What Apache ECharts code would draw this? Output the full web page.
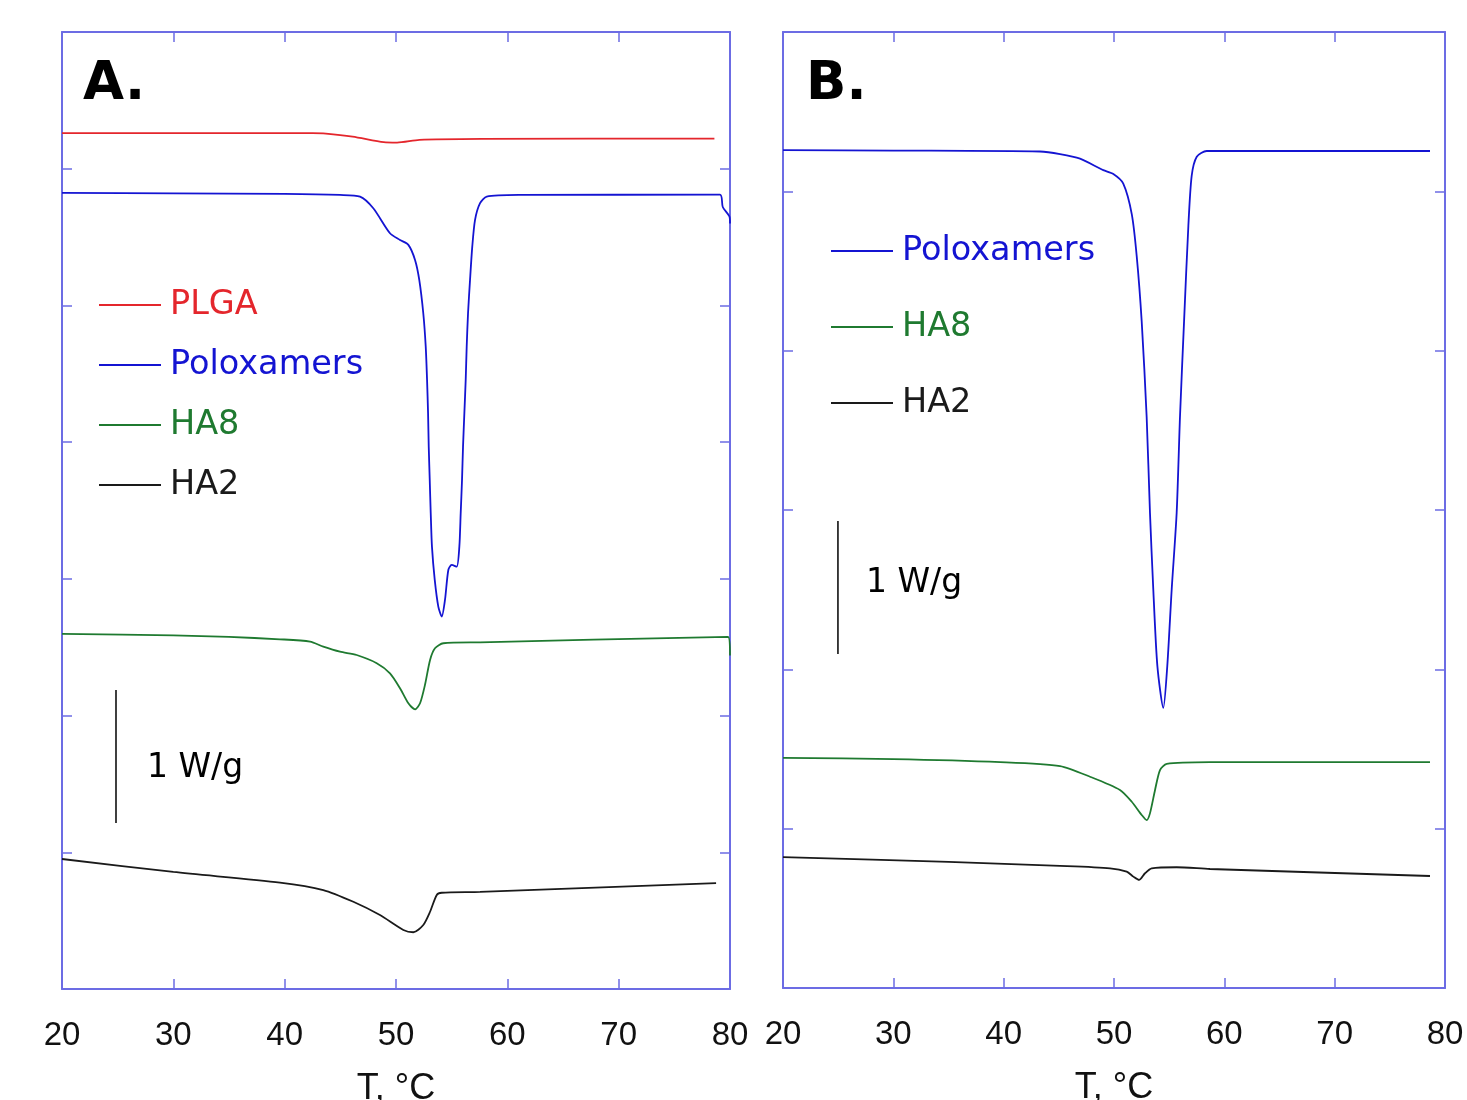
<!DOCTYPE html>
<html>
<head>
<meta charset="utf-8">
<script src="https://cdn.jsdelivr.net/npm/echarts@6/dist/echarts.min.js"></script>
<style>
  html, body { margin: 0; padding: 0; background: #fff; }
  #dsc-chart { width: 1467px; height: 1100px; }
</style>
</head>
<body>
<div id="dsc-chart"></div>
<script>
// x ticks (°C)
var tempTicks = [20, 30, 40, 50, 60, 70, 80];

// panel A curves, [T (°C), heat flow (axis units, offset)]
var plgaA = [[20, 6.26], [30, 6.26], [40, 6.26], [42.5, 6.26], [43.7, 6.257], [46.1, 6.235], [48.9, 6.194],
    [50.1, 6.191], [52.1, 6.211], [57.7, 6.218], [78.6, 6.22]];
var poloxA = [[20, 5.823], [30, 5.82], [40, 5.816], [44.97, 5.808], [46.77, 5.796], [47.96, 5.711], [49.46, 5.528],
    [50.36, 5.479], [51.11, 5.443], [51.71, 5.333], [52.09, 5.187], [52.45, 4.943], [52.67, 4.699], [52.79, 4.455],
    [52.88, 4.211], [52.94, 3.967], [53.03, 3.723], [53.12, 3.479], [53.23, 3.236], [53.48, 2.992], [53.8, 2.797],
    [54.11, 2.724], [54.4, 2.846], [54.7, 3.065], [55.0, 3.102], [55.45, 3.089], [55.69, 3.236], [55.81, 3.479],
    [55.93, 3.723], [56.02, 3.967], [56.14, 4.211], [56.26, 4.455], [56.35, 4.699], [56.47, 4.943], [56.65, 5.187],
    [56.85, 5.43], [57.1, 5.626], [57.55, 5.748], [58.15, 5.796], [61.14, 5.808], [79.1, 5.81], [79.35, 5.72],
    [79.95, 5.65], [80, 5.6]];
var ha8A = [[20, 2.597], [30, 2.586], [35, 2.575], [39.58, 2.558], [42.28, 2.541], [43.47, 2.504], [44.97, 2.467],
    [46.47, 2.443], [48.27, 2.383], [49.46, 2.309], [50.36, 2.2], [51.11, 2.09], [51.71, 2.046], [52.16, 2.09],
    [52.61, 2.227], [53.06, 2.407], [53.5, 2.492], [54.25, 2.529], [57.55, 2.536], [79.82, 2.575], [80, 2.44]];
var ha2A = [[20, 0.951], [30, 0.856], [39.58, 0.778], [43.47, 0.724], [46.17, 0.638], [48.56, 0.541], [50.66, 0.432],
    [51.56, 0.415], [52.45, 0.468], [53.06, 0.565], [53.66, 0.688], [54.11, 0.704], [57.55, 0.71], [78.75, 0.775]];

// panel B curves
var poloxB = [[20, 5.259], [30, 5.256], [43.29, 5.25], [45.11, 5.234], [46.92, 5.205], [49.03, 5.133], [49.94, 5.109],
    [50.84, 5.049], [51.61, 4.857], [52.06, 4.592], [52.51, 4.184], [52.96, 3.584], [53.26, 2.983], [53.56, 2.503],
    [53.93, 2.022], [54.47, 1.758], [54.83, 2.022], [55.23, 2.503], [55.68, 2.983], [55.98, 3.584], [56.35, 4.184],
    [56.74, 4.784], [57.04, 5.097], [57.5, 5.217], [58.4, 5.253], [61.42, 5.253], [78.64, 5.253]];
var ha8B = [[20, 1.444], [30, 1.437], [39.7, 1.418], [45.11, 1.393], [47.83, 1.326], [50.54, 1.243], [51.61, 1.169],
    [52.51, 1.086], [52.96, 1.054], [53.26, 1.096], [53.72, 1.243], [54.17, 1.368], [54.78, 1.406], [58.7, 1.417],
    [78.64, 1.418]];
var ha2B = [[20, 0.822], [35, 0.791], [45.11, 0.766], [49.64, 0.751], [51.15, 0.73], [51.75, 0.699], [52.27, 0.678],
    [52.81, 0.72], [53.42, 0.751], [55.68, 0.758], [58.7, 0.747], [78.64, 0.703]];

// 1 W/g scale bars
var barA = [[24.85, 2.187], [24.85, 1.214]];
var barB = [[24.98, 2.931], [24.98, 2.096]];

var RED = '#e4262c', BLUE = '#1414d2', GREEN = '#1f7a30', BLACK = '#1a1a1a';
var AXIS = '#6c6ce4';

function xAx(grid, pos) {
    var bottom = pos === 'bottom';
    return {
        type: 'value', gridIndex: grid, position: pos, min: 20, max: 80, interval: 10,
        axisLine: { show: true, onZero: false, lineStyle: { color: AXIS, width: 2 } },
        axisTick: { show: true, inside: true, length: 10, lineStyle: { color: AXIS, width: 1.5 } },
        axisLabel: { show: bottom, margin: 30, color: '#111', fontSize: 33, fontFamily: 'Liberation Sans',
            formatter: function (v) { return tempTicks.indexOf(v) >= 0 ? String(v) : ''; } },
        splitLine: { show: false },
        name: bottom ? 'T, °C' : '', nameLocation: 'middle', nameGap: 82,
        nameTextStyle: { color: '#111', fontSize: 36, fontFamily: 'Liberation Sans' }
    };
}
function yAx(grid, pos, max) {
    return {
        type: 'value', gridIndex: grid, position: pos, min: 0, max: max, interval: 1,
        axisLine: { show: true, onZero: false, lineStyle: { color: AXIS, width: 2 } },
        axisTick: { show: true, inside: true, length: 10, lineStyle: { color: AXIS, width: 1.5 } },
        axisLabel: { show: false },
        splitLine: { show: false }
    };
}
function curve(name, data, color, xi, yi) {
    return {
        name: name, type: 'line', data: data, xAxisIndex: xi, yAxisIndex: yi,
        showSymbol: false, symbol: 'none', smooth: 0.25, silent: true,
        lineStyle: { color: color, width: 1.8 }, itemStyle: { color: color }
    };
}

var chart = echarts.init(document.getElementById('dsc-chart'));
var option = {
    backgroundColor: '#fff',
    animation: false,
    grid: [
        { left: 62, top: 32, width: 668, height: 957, containLabel: false, outerBoundsMode: 'none' },
        { left: 783, top: 32, width: 662, height: 956, containLabel: false, outerBoundsMode: 'none' }
    ],
    xAxis: [xAx(0, 'bottom'), xAx(0, 'top'), xAx(1, 'bottom'), xAx(1, 'top')],
    yAxis: [yAx(0, 'left', 7), yAx(0, 'right', 7), yAx(1, 'left', 6), yAx(1, 'right', 6)],
    legend: [
        {
            left: 99, top: 288, padding: 0, orient: 'vertical', itemWidth: 62, itemHeight: 2, itemGap: 26,
            icon: 'rect', selectedMode: false,
            textStyle: { fontSize: 33.5, lineHeight: 33, fontFamily: 'DejaVu Sans', padding: [0, 0, 0, 4] },
            data: [
                { name: 'PLGA', textStyle: { color: RED } },
                { name: 'Poloxamers', textStyle: { color: BLUE } },
                { name: 'HA8', textStyle: { color: GREEN } },
                { name: 'HA2', textStyle: { color: BLACK } }
            ]
        },
        {
            left: 831, top: 234, padding: 0, orient: 'vertical', itemWidth: 62, itemHeight: 2, itemGap: 42,
            icon: 'rect', selectedMode: false,
            textStyle: { fontSize: 33.5, lineHeight: 33, fontFamily: 'DejaVu Sans', padding: [0, 0, 0, 4] },
            data: [
                { name: 'Poloxamers', textStyle: { color: BLUE } },
                { name: 'HA8', textStyle: { color: GREEN } },
                { name: 'HA2', textStyle: { color: BLACK } }
            ]
        }
    ],
    graphic: [
        { type: 'text', left: 83, top: 59, style: { text: 'A.', fontSize: 53, fontWeight: 'bold', fontFamily: 'DejaVu Sans', fill: '#000' } },
        { type: 'text', left: 806, top: 59, style: { text: 'B.', fontSize: 53, fontWeight: 'bold', fontFamily: 'DejaVu Sans', fill: '#000' } },
        { type: 'text', left: 147, top: 752, style: { text: '1 W/g', fontSize: 33, fontFamily: 'DejaVu Sans', fill: '#000' } },
        { type: 'text', left: 866, top: 567, style: { text: '1 W/g', fontSize: 33, fontFamily: 'DejaVu Sans', fill: '#000' } }
    ],
    series: [
        curve('PLGA', plgaA, RED, 0, 0),
        curve('Poloxamers', poloxA, BLUE, 0, 0),
        curve('HA8', ha8A, GREEN, 0, 0),
        curve('HA2', ha2A, BLACK, 0, 0),
        curve('Poloxamers', poloxB, BLUE, 2, 2),
        curve('HA8', ha8B, GREEN, 2, 2),
        curve('HA2', ha2B, BLACK, 2, 2),
        { type: 'line', data: barA, xAxisIndex: 0, yAxisIndex: 0, symbol: 'none', silent: true,
          lineStyle: { color: '#000', width: 1.5 } },
        { type: 'line', data: barB, xAxisIndex: 2, yAxisIndex: 2, symbol: 'none', silent: true,
          lineStyle: { color: '#000', width: 1.5 } }
    ]
};
chart.setOption(option);
window.addEventListener('resize', function () {
    chart.resize();
});
</script>
</body>
</html>
